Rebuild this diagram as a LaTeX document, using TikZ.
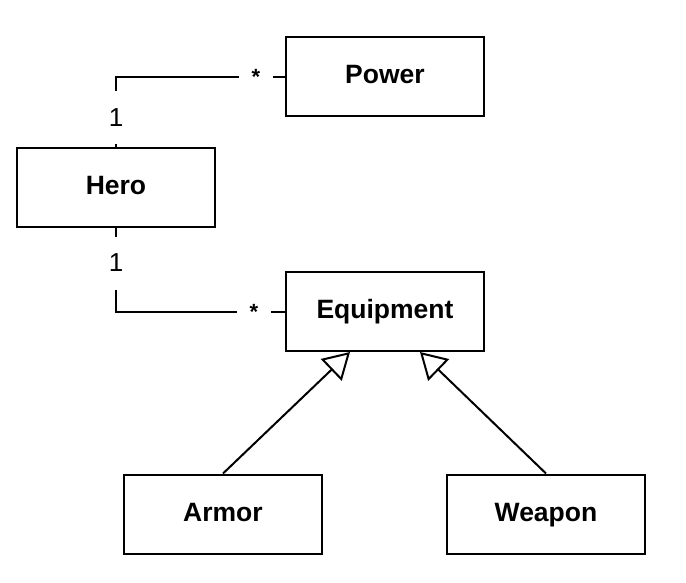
\documentclass[tikz,border=0pt]{standalone}
\usepackage{fontspec}
\setmainfont{Liberation Sans}
\usetikzlibrary{arrows.meta}
\begin{document}
\begin{tikzpicture}[x=1pt,y=-1pt,
  cls/.style={draw, line width=2pt, minimum width=198pt, minimum height=79pt, inner sep=0pt, text height=19.9pt, text depth=5pt, font=\fontsize{26.5}{30}\selectfont\bfseries},
  conn/.style={line width=2pt},
  inh/.style={line width=2pt, -{Triangle[open, length=26pt, width=30pt, line width=2pt]}},
  mult/.style={fill=white, inner sep=0pt, minimum height=53pt, font=\fontsize{26}{30}\selectfont},
  star/.style={fill=white, inner sep=0pt, minimum width=34pt, font=\fontsize{22}{26}\selectfont\bfseries}]
\useasboundingbox (0,0) rectangle (686,582);
\node[cls] (power) at (385,76.5) {Power};
\node[cls] (hero) at (116,187.5) {Hero};
\node[cls] (equip) at (385,311.5) {Equipment};
\node[cls] (armor) at (223,514) {Armor};
\node[cls] (weapon) at (546,514) {Weapon};
\draw[conn] (hero.north) |- (power.west);
\draw[conn] (hero.south) |- (equip.west);
\node[mult] (m1) at (116,117.5) {1};
\node[star] (s1) at (256,76.5) {*};
\node[mult] (m2) at (116,263) {1};
\node[star] (s2) at (254,311.5) {*};
\draw[inh] (armor.north) -- ([xshift=-35pt]equip.south);
\draw[inh] (weapon.north) -- ([xshift=35pt]equip.south);
\end{tikzpicture}
\end{document}
